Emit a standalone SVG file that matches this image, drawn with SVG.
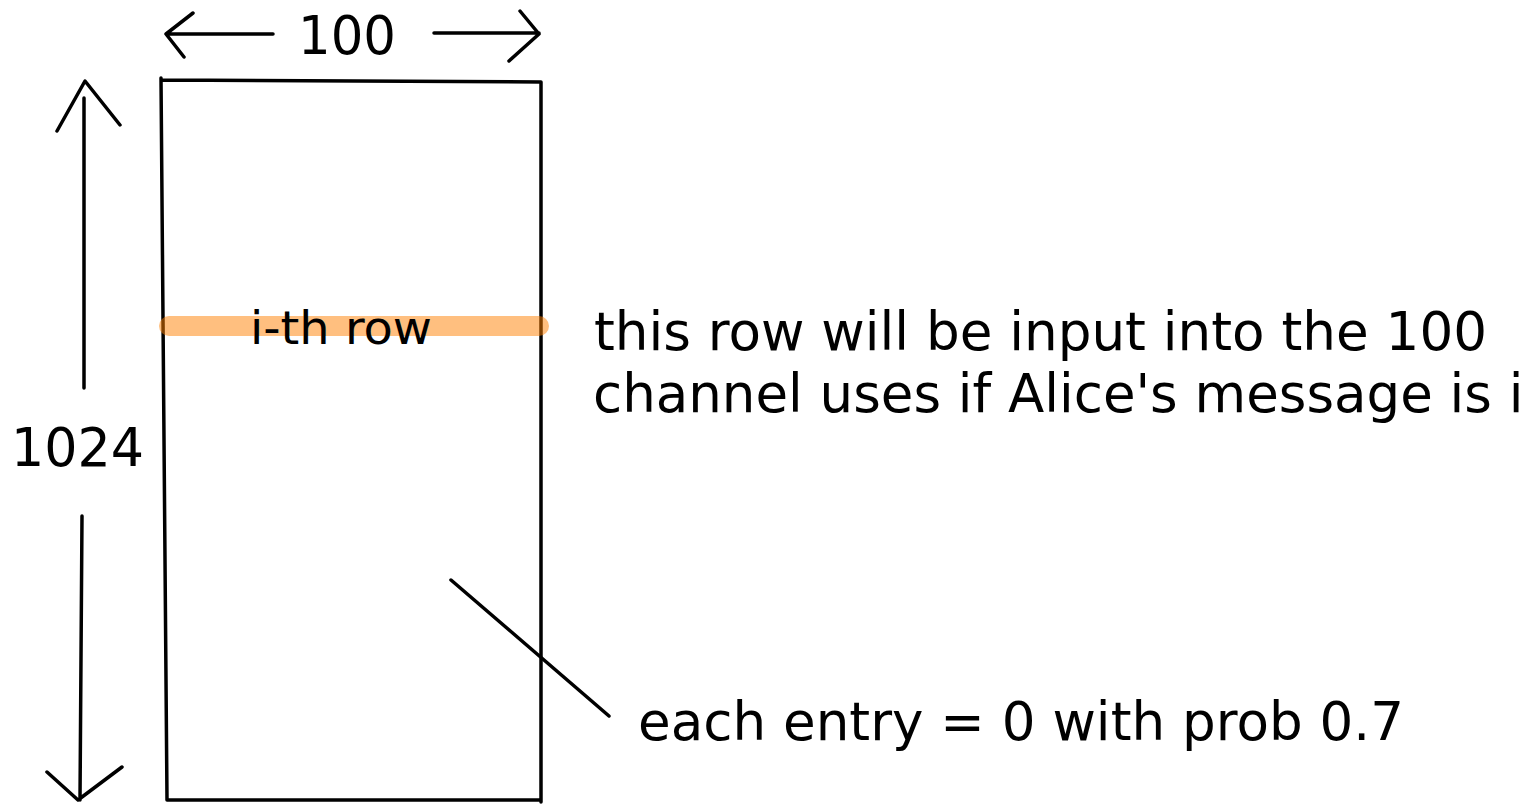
<svg xmlns="http://www.w3.org/2000/svg" width="1533" height="804" viewBox="0 0 1533 804">
<style>
.s{fill:none;stroke:#000;stroke-width:3.5;stroke-linecap:round;stroke-linejoin:round}
.t{font-family:"DejaVu Sans",sans-serif;fill:#000}
</style>
<rect width="1533" height="804" fill="#fff"/>
<g id="matrix">
<path class="s" d="M161,80 L541,82 M161,78 L167,800 M541,82 L541,802 M167,800 L540,800"/>
</g>
<g id="highlight">
<line x1="169" y1="326" x2="539" y2="326" stroke="#ff8000" stroke-opacity="0.5" stroke-width="20" stroke-linecap="round"/>
<text class="t" x="250" y="344" font-size="46" textLength="182" lengthAdjust="spacingAndGlyphs">i-th row</text>
</g>
<g id="connectors">
<path class="s" d="M167,34 L273,34 M193,13 L166,34 L184,57"/>
<path class="s" d="M434,33 L539,33 M520,11 L539,34 M539,34 L509,61"/>
<path class="s" d="M84,98 L84,388 M57,131 L85,81 L120,125"/>
<path class="s" d="M82,516 L80,800 M47,772 L78,800 L122,767"/>
<path class="s" d="M451,580 L609,716"/>
</g>
<g id="labels">
<text class="t" x="298" y="54" font-size="53" textLength="98" lengthAdjust="spacingAndGlyphs">100</text>
<text class="t" x="11" y="466" font-size="53" textLength="133" lengthAdjust="spacingAndGlyphs">1024</text>
<text class="t" x="594" y="350" font-size="53" textLength="893" lengthAdjust="spacingAndGlyphs">this row will be input into the 100</text>
<text class="t" x="593" y="412" font-size="53">channel uses if Alice's message is i</text>
<text class="t" x="638" y="740" font-size="53" textLength="766" lengthAdjust="spacingAndGlyphs">each entry = 0 with prob 0.7</text>
</g>
</svg>
